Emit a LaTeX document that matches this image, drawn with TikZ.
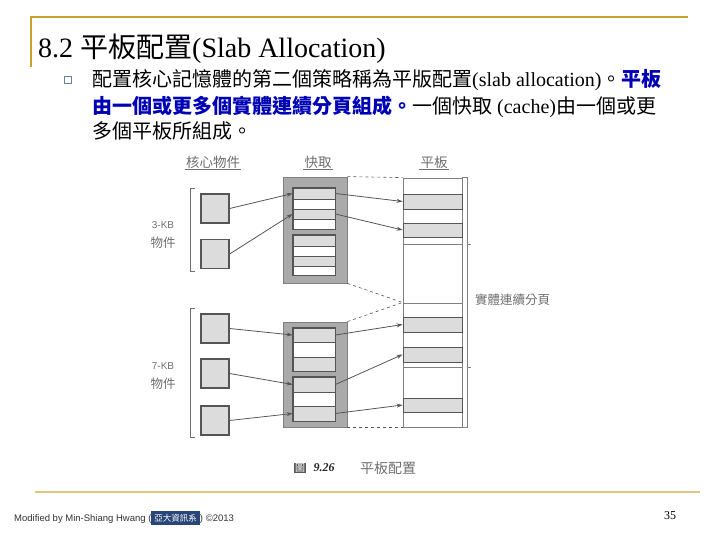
\documentclass[tikz,border=0pt]{standalone}
\usepackage{fontspec}
\setmainfont{Liberation Serif}
\setsansfont{Liberation Sans}
\newfontfamily\cjk{Noto Sans CJK TC}
\usetikzlibrary{arrows.meta}

\definecolor{gold}{RGB}{200,162,40}
\definecolor{rowgray}{RGB}{220,220,220}
\definecolor{cachegray}{RGB}{170,170,170}
\definecolor{linegray}{RGB}{85,85,85}
\definecolor{labelgray}{RGB}{110,110,110}
\definecolor{boldblue}{RGB}{0,0,180}
\definecolor{selblue}{RGB}{40,70,120}

\begin{document}
\begin{tikzpicture}[x=1pt,y=-1pt,
  objbox/.style={draw=linegray, line width=1.2pt, fill=rowgray, minimum width=28pt, minimum height=29pt, inner sep=0pt},
  row/.style={draw=linegray, line width=0.8pt, fill=rowgray, minimum width=42pt, inner sep=0pt},
  blank/.style={row, fill=white},
  cache/.style={draw=gray, line width=0.8pt, fill=cachegray, minimum width=64pt, inner sep=0pt},
  slabrow/.style={draw=linegray, line width=0.8pt, fill=rowgray, minimum width=59pt, inner sep=0pt},
  ptr/.style={-{Stealth[length=6pt,width=4pt]}, linegray, line width=0.8pt},
  guide/.style={dashed, linegray, line width=0.6pt},
  hdr/.style={font=\cjk\fontsize{13.5}{13.5}\selectfont, text=labelgray, inner sep=1pt},
  side/.style={font=\cjk\fontsize{12.5}{12.5}\selectfont, text=labelgray, inner sep=0pt}
]
\useasboundingbox (0,0) rectangle (720,540);

% Slide frame
\draw[gold, line width=2.5pt] (31,67) -- (31,17) -- (688,17);
\draw[gold!60, line width=2pt] (35,492) -- (700,492);

% Title and text
\node[anchor=base west, inner sep=0pt, font=\fontsize{28}{28}\selectfont] (title) at (38,58)
  {8.2 {\cjk 平板配置}(Slab Allocation)};
\node[draw=selblue!70, line width=0.7pt, minimum size=7pt, inner sep=0pt] (bullet) at (68,80) {};
\node[anchor=base west, inner sep=0pt, font=\fontsize{20}{20}\selectfont] (line1) at (92,87)
  {{\cjk 配置核心記憶體的第二個策略稱為平版配置}(slab allocation){\cjk 。\textcolor{boldblue}{\bfseries 平板}}};
\node[anchor=base west, inner sep=0pt, font=\fontsize{20}{20}\selectfont] (line2) at (92,114)
  {{\cjk\bfseries\color{boldblue} 由一個或更多個實體連續分頁組成。}{\cjk 一個快取} (cache){\cjk 由一個或更}};
\node[anchor=base west, inner sep=0pt, font=\fontsize{20}{20}\selectfont] (line3) at (92,139)
  {{\cjk 多個平板所組成。}};

% Column headers
\node[hdr] (hobj) at (213,162) {核心物件};
\node[hdr] (hcache) at (318,162) {快取};
\node[hdr] (hslab) at (434,162) {平板};
\foreach \h in {hobj,hcache,hslab}
  \draw[labelgray, line width=0.7pt] (\h.south west) -- (\h.south east);

% Kernel objects
\draw[labelgray, line width=1pt] (195,189) -- (190,189) -- (190,271) -- (195,271);
\draw[labelgray, line width=1pt] (195,308) -- (190,308) -- (190,437) -- (195,437);
\node[text=labelgray, font=\sffamily\fontsize{10}{10}\selectfont] (kb3) at (163,225) {3-KB};
\node[side] (kb3b) at (163,243) {物件};
\node[text=labelgray, font=\sffamily\fontsize{10}{10}\selectfont] (kb7) at (163,366) {7-KB};
\node[side] (kb7b) at (163,384) {物件};

\node[objbox] (o1) at (215,208.5) {};
\node[objbox] (o2) at (215,254) {};
\node[objbox] (p1) at (215,328.5) {};
\node[objbox] (p2) at (215,373.5) {};
\node[objbox] (p3) at (215,420.5) {};

% Cache for 3-KB objects
\node[cache, minimum height=106pt] (cache1) at (315,230) {};
\node[row, minimum height=11pt] (c1a) at (314,193.5) {};
\node[blank, minimum height=10pt] (c1b) at (314,204) {};
\node[row, minimum height=10pt] (c1c) at (314,214) {};
\node[blank, minimum height=10pt] (c1d) at (314,224) {};
\draw[linegray, line width=1.2pt] (c1a.north west) rectangle (c1d.south east);
\node[row, minimum height=11pt] (c1e) at (314,240.5) {};
\node[blank, minimum height=10pt] (c1f) at (314,251) {};
\node[row, minimum height=10pt] (c1g) at (314,261) {};
\node[blank, minimum height=9pt] (c1h) at (314,270.5) {};
\draw[linegray, line width=1.2pt] (c1e.north west) rectangle (c1h.south east);

% Cache for 7-KB objects
\node[cache, minimum height=105pt] (cache2) at (315,374.5) {};
\node[row, minimum height=14pt] (c2a) at (314,335) {};
\node[blank, minimum height=15pt] (c2b) at (314,349.5) {};
\node[row, minimum height=14pt] (c2c) at (314,364) {};
\draw[linegray, line width=1.2pt] (c2a.north west) rectangle (c2c.south east);
\node[row, minimum height=15pt] (c2d) at (314,384.5) {};
\node[blank, minimum height=14pt] (c2e) at (314,399) {};
\node[row, minimum height=15pt] (c2f) at (314,413.5) {};
\draw[linegray, line width=1.2pt] (c2d.north west) rectangle (c2f.south east);

% Slabs
\node[draw=gray, line width=0.8pt, fill=white, minimum width=59pt, minimum height=249pt, inner sep=0pt] (slab) at (432.5,302.5) {};
\node[slabrow, minimum height=15pt] (s1) at (432.5,201.5) {};
\node[slabrow, minimum height=14pt] (s2) at (432.5,230) {};
\node[slabrow, minimum height=15pt] (s3) at (432.5,324.5) {};
\node[slabrow, minimum height=15pt] (s4) at (432.5,354.5) {};
\node[slabrow, minimum height=14pt] (s5) at (432.5,405) {};
\foreach \y in {244,303,367}
  \draw[gray, line width=0.8pt] (403,\y) -- (462,\y);
\draw[gray, line width=1pt] (462,178) -- (467,178) -- (467,427) -- (462,427);
\draw[gray, line width=1pt] (467,244) -- (471,244);
\draw[gray, line width=1pt] (467,367) -- (471,367);
\node[side, anchor=west] (pages) at (475,300) {實體連續分頁};

% Dashed guides
\draw[guide] (cache1.north east) -- (slab.north west);
\draw[guide] (cache1.south east) -- (slab.west);
\draw[guide] (cache2.north east) -- (slab.west);
\draw[guide] (cache2.south east) -- (slab.south west);

% Pointers
\draw[ptr] (o1.east) -- (c1a.west);
\draw[ptr] (o2.east) -- (c1c.west);
\draw[ptr] (c1a.east) -- (s1.west);
\draw[ptr] (c1c.east) -- (s2.west);
\draw[ptr] (p1.east) -- (c2a.west);
\draw[ptr] (p2.east) -- (c2d.west);
\draw[ptr] (p3.east) -- (c2f.west);
\draw[ptr] (c2a.east) -- (s3.west);
\draw[ptr] (c2d.east) -- (s4.west);
\draw[ptr] (c2f.east) -- (s5.west);

% Caption
\node[fill=gray!70!black, text=white, font=\cjk\fontsize{10}{10}\selectfont, inner sep=1pt] (figicon) at (300,468) {圖};
\node[font=\bfseries\itshape\fontsize{12}{12}\selectfont, text=black!85, anchor=west] (fignum) at (310,468) {9.26};
\node[font=\cjk\fontsize{14}{14}\selectfont, text=labelgray] (figname) at (388,468) {平板配置};

% Footer
\node[anchor=base west, inner sep=0pt, font=\sffamily\fontsize{9.5}{9.5}\selectfont, text=black!80] (footer) at (14,521)
  {Modified by Min-Shiang Hwang (\colorbox{selblue}{\cjk\color{white}\fontsize{8.5}{8.5}\selectfont 亞大資訊系}) ©2013};
\node[font=\fontsize{12}{12}\selectfont] (pageno) at (670,516) {35};

\end{tikzpicture}
\end{document}
